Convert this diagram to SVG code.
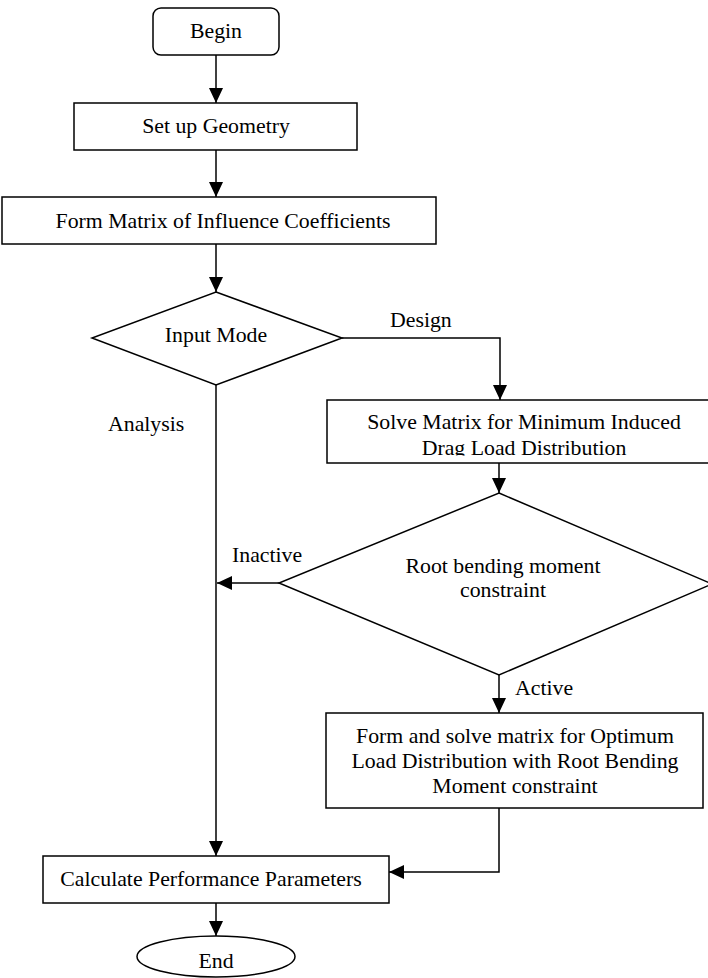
<svg xmlns="http://www.w3.org/2000/svg" width="708" height="978" viewBox="0 0 708 978">
  <style>
    .box { fill: #ffffff; stroke: #000000; stroke-width: 1.5; }
    .lbl { font-family: "Liberation Serif", "Times New Roman", serif; font-size: 21.8px; fill: #000000; }
    .mid { text-anchor: middle; }
    .wire { fill: none; stroke: #000000; stroke-width: 1.5; marker-end: url(#arrow); }
  </style>
  <defs>
    <marker id="arrow" markerUnits="userSpaceOnUse" markerWidth="16" markerHeight="16" viewBox="0 0 16 16" refX="15" refY="8" orient="auto">
      <path d="M0,1 L15,8 L0,15 z" fill="#000000"/>
    </marker>
    <clipPath id="solveClip">
      <rect x="320" y="400" width="400" height="55.5"/>
    </clipPath>
  </defs>
  <rect width="708" height="978" fill="#ffffff"/>

  <g id="connectors">
    <path class="wire" d="M216,55 V103"/>
    <path class="wire" d="M216,150 V197"/>
    <path class="wire" d="M216,244 V292"/>
    <path class="wire" d="M342,338 H500 V400"/>
    <path class="wire" d="M216,385 V856"/>
    <path class="wire" d="M499,463 V493"/>
    <path class="wire" d="M279,583 H217"/>
    <path class="wire" d="M499,675 V713"/>
    <path class="wire" d="M499,808 V872 H389"/>
    <path class="wire" d="M216,903 V936"/>
  </g>

  <g id="begin">
    <rect class="box" x="153" y="8" width="126" height="47" rx="8" ry="8"/>
    <text class="lbl mid" x="216" y="38">Begin</text>
  </g>

  <g id="setup-geometry">
    <rect class="box" x="74" y="103" width="283" height="47"/>
    <text class="lbl mid" x="216" y="133">Set up Geometry</text>
  </g>

  <g id="influence-matrix">
    <rect class="box" x="2" y="197" width="434" height="47"/>
    <text class="lbl mid" x="223" y="228">Form Matrix of Influence Coefficients</text>
  </g>

  <g id="input-mode">
    <polygon class="box" points="216,292 342,338 216,385 92,338"/>
    <text class="lbl mid" x="216" y="342">Input Mode</text>
  </g>

  <g id="branch-labels">
    <text class="lbl" x="390" y="327">Design</text>
    <text class="lbl" x="108" y="431">Analysis</text>
    <text class="lbl" x="232" y="562">Inactive</text>
    <text class="lbl" x="515" y="695">Active</text>
  </g>

  <g id="solve-min-drag">
    <rect class="box" x="327" y="400" width="385" height="63"/>
    <g clip-path="url(#solveClip)">
      <text class="lbl mid" x="524" y="429">Solve Matrix for Minimum Induced</text>
      <text class="lbl mid" x="524" y="455">Drag Load Distribution</text>
    </g>
  </g>

  <g id="root-bending-check">
    <polygon class="box" points="499,493 712,584 499,675 279,583"/>
    <text class="lbl mid" x="503" y="573">Root bending moment</text>
    <text class="lbl mid" x="503" y="597">constraint</text>
  </g>

  <g id="constrained-solve">
    <rect class="box" x="326" y="713" width="377" height="95"/>
    <text class="lbl mid" x="515" y="743">Form and solve matrix for Optimum</text>
    <text class="lbl mid" x="515" y="768">Load Distribution with Root Bending</text>
    <text class="lbl mid" x="515" y="793">Moment constraint</text>
  </g>

  <g id="performance">
    <rect class="box" x="43" y="856" width="346" height="47"/>
    <text class="lbl mid" x="211" y="886">Calculate Performance Parameters</text>
  </g>

  <g id="end">
    <ellipse class="box" cx="216" cy="956.5" rx="79" ry="20.5"/>
    <text class="lbl mid" x="216" y="968">End</text>
  </g>
</svg>
